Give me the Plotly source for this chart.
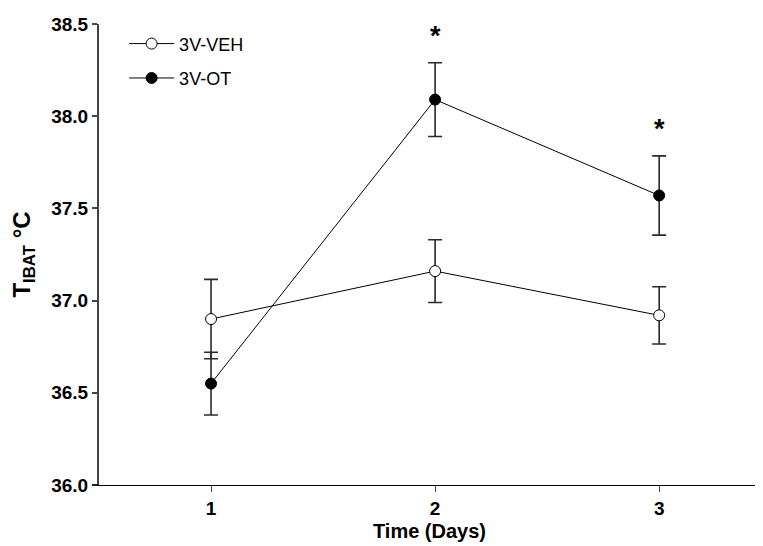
import plotly.graph_objects as go

days = [1, 2, 3]
veh_mean = [36.90, 37.16, 36.92]
veh_sem = [0.215, 0.17, 0.155]
ot_mean = [36.55, 38.09, 37.57]
ot_sem = [0.17, 0.20, 0.215]
sig_days = [2, 3]
y_ticks = [36.0, 36.5, 37.0, 37.5, 38.0, 38.5]
x_ticks = [1, 2, 3]

FONT = "Arial, 'Liberation Sans', sans-serif"

fig = go.Figure()
fig.add_trace(go.Scatter(
    x=days, y=veh_mean, name="3V-VEH", mode="lines+markers",
    line=dict(color="black", width=1),
    marker=dict(symbol="circle", size=11, color="white", line=dict(color="black", width=1)),
    error_y=dict(type="data", array=veh_sem, visible=True, color="#2a2a2a", thickness=1.6, width=7),
    legendgroup="a",
))
fig.add_trace(go.Scatter(
    x=days, y=ot_mean, name="3V-OT", mode="lines+markers",
    line=dict(color="black", width=1),
    marker=dict(symbol="circle", size=11, color="black", line=dict(color="black", width=1)),
    error_y=dict(type="data", array=ot_sem, visible=True, color="#2a2a2a", thickness=1.6, width=7),
    legendgroup="b",
))

for d in sig_days:
    i = days.index(d)
    fig.add_annotation(x=d, y=ot_mean[i] + ot_sem[i], text="<b>*</b>", showarrow=False,
                       yanchor="middle", yshift=27,
                       font=dict(family=FONT, size=27, color="black"))

fig.add_shape(type="line", xref="paper", yref="paper", x0=-0.011, x1=0, y0=0, y1=0,
              line=dict(color="black", width=1))

fig.update_layout(
    width=763, height=546,
    margin=dict(l=91, r=11, t=6, b=69),
    paper_bgcolor="white", plot_bgcolor="white",
    font=dict(family=FONT, color="black"),
    showlegend=True,
    legend=dict(x=0.038, y=0.997, xanchor="left", yanchor="top",
                font=dict(family=FONT, size=18, color="black"),
                bgcolor="rgba(0,0,0,0)", tracegroupgap=8, itemwidth=45),
    xaxis=dict(range=[0.5, 3.45], tickvals=x_ticks, ticktext=[str(v) for v in x_ticks],
               showline=True, linecolor="black", linewidth=1, showgrid=False, zeroline=False,
               ticks="outside", ticklen=6, tickcolor="#444444", tickwidth=1,
               tickfont=dict(family=FONT, size=19, color="black", weight="bold"),
               title=dict(text="<b>Time (Days)</b>", font=dict(family=FONT, size=20, color="black"),
                          standoff=6)),
    yaxis=dict(range=[36.0, 38.5], tickvals=y_ticks, ticktext=[f"{v:.1f}" for v in y_ticks],
               showline=True, linecolor="#444444", linewidth=2, showgrid=False, zeroline=False,
               ticks="outside", ticklen=5, tickcolor="#444444", tickwidth=1.5,
               ticklabeloverflow="allow",
               tickfont=dict(family=FONT, size=19, color="black", weight="bold"),
               title=dict(text="<b>T<sub>IBAT</sub> °C</b>", font=dict(family=FONT, size=24, color="black"),
                          standoff=20)),
)

fig.write_html("out.html")
